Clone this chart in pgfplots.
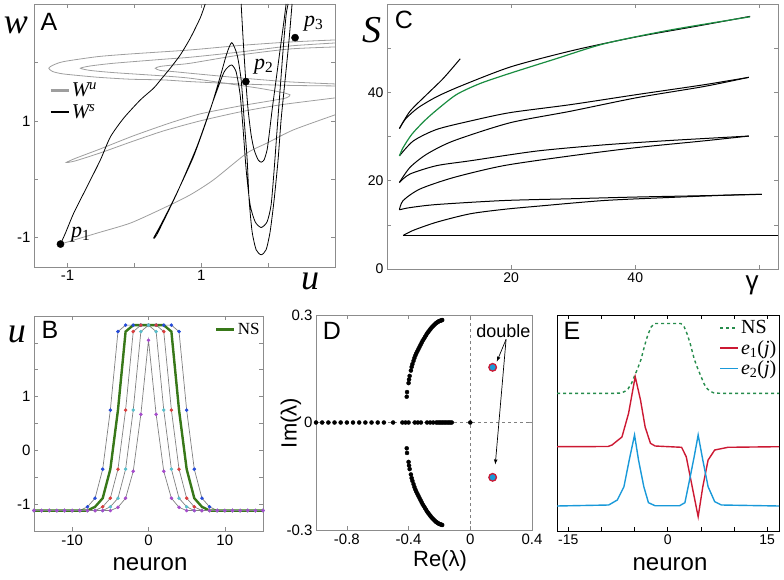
\documentclass[border=0pt]{standalone}
\usepackage{pgfplots}
\pgfplotsset{compat=1.18}
\usepackage{fontspec}
\setmainfont{Liberation Sans}
\newfontfamily\tms{Liberation Serif}
\newcommand\fs[1]{\fontsize{#1}{#1}\selectfont}
\definecolor{fr}{gray}{0.55}
\definecolor{gu}{gray}{0.62}
\definecolor{cgreen}{rgb}{0.1,0.55,0.25}
\definecolor{bgreen}{rgb}{0.22,0.47,0.1}
\definecolor{egreen}{rgb}{0.15,0.55,0.3}
\definecolor{bblue}{rgb}{0.15,0.3,0.85}
\definecolor{bred}{rgb}{0.85,0.25,0.25}
\definecolor{bcyan}{rgb}{0.35,0.75,0.8}
\definecolor{bpurp}{rgb}{0.65,0.3,0.8}
\definecolor{ered}{rgb}{0.8,0.1,0.2}
\definecolor{eblue}{rgb}{0.1,0.6,0.85}
\definecolor{bline}{gray}{0.5}
\pgfplotsset{panel/.style={scale only axis, anchor=south west, axis line style={fr},
  tick style={fr, line width=0.6pt}, tick align=inside, major tick length=4pt,
  tick label style={font=\fs{15}}, legend cell align=left,
  legend image code/.code={\draw[##1] (0pt,0pt) -- (18pt,0pt);}}}
\begin{document}
\begin{tikzpicture}
\useasboundingbox (0,0) rectangle (784pt,579pt);
% ---------------- A ----------------
\begin{axis}[panel, at={(34pt,312pt)}, width=301pt, height=263pt,
  xmin=-1.5, xmax=3, ymin=-1.5, ymax=3,
  xtick={-1,0,1,2}, xticklabels={-1,{},1,{}},
  ytick={-1,0,1,2}, yticklabels={-1,{},1,{}},
  legend style={at={(0.05,0.71)}, anchor=north west, draw=none, fill=none, font=\tms\fs{21}, row sep=2pt, inner sep=0pt}]
\addplot[gu, line width=0.8pt, smooth, tension=0.4, forget plot] coordinates {(-1.104,-1.108)(-0.557,-0.920)(-0.060,-0.749)(0.437,-0.492)(0.836,-0.265)(1.184,-0.009)(1.682,0.448)(1.981,0.619)(2.378,0.846)(3.0,1.103)};
\addplot[gu, line width=0.8pt, smooth, tension=0.4, forget plot] coordinates {(3.0,2.333)(2.328,2.282)(1.582,2.179)(0.836,2.089)(0.437,2.055)(-0.309,1.986)(-0.657,1.940)(-0.806,1.901)(-0.657,1.863)(-0.309,1.826)(0.437,1.769)(0.836,1.730)(1.433,1.632)(1.881,1.556)(2.209,1.487)(2.328,1.444)(2.269,1.393)(2.030,1.342)(1.582,1.256)(0.985,1.120)(0.537,0.966)(-0.015,0.744)(-0.507,0.521)(-0.881,0.359)(-1.019,0.287)(-0.881,0.316)(-0.507,0.453)(-0.060,0.636)(0.437,0.829)(0.985,1.0)(1.582,1.154)(2.179,1.274)(3.0,1.393)};
\addplot[gu, line width=0.8pt, smooth, tension=0.4, forget plot] coordinates {(3.0,2.385)(2.328,2.350)(1.582,2.291)(0.836,2.214)(-0.060,2.145)(-0.552,2.099)(-1.060,2.014)(-1.224,1.949)(-1.279,1.901)(-1.224,1.846)(-1.060,1.803)(-0.552,1.747)(-0.060,1.713)(0.433,1.701)(0.836,1.672)(1.582,1.632)(2.328,1.607)(3.0,1.598)};
\addplot[gu, line width=0.8pt, smooth, tension=0.4, forget plot] coordinates {(3.0,2.265)(2.328,2.231)(1.582,2.128)(0.836,1.986)(0.587,1.957)(0.388,1.932)(0.313,1.901)(0.388,1.863)(0.587,1.843)(0.836,1.815)(1.582,1.735)(2.328,1.667)(3.0,1.632)};
\addplot[black, line width=0.8pt, smooth, tension=0.4, forget plot] coordinates {(-1.104,-1.108)(-1.030,-0.920)(-0.906,-0.578)(-0.706,-0.123)(-0.507,0.333)(-0.358,0.726)(-0.160,1.046)(0.090,1.359)(0.288,1.559)(0.413,1.730)(0.537,1.901)(0.687,2.128)(0.836,2.414)(0.985,2.761)(1.060,3.0)};
\addplot[black, line width=0.8pt, smooth, tension=0.4, forget plot] coordinates {(1.597,3.0)(1.627,2.385)(1.667,1.672)(1.701,1.188)(1.746,0.761)(1.791,0.504)(1.851,0.333)(1.896,0.294)(1.940,0.333)(1.985,0.504)(2.015,0.761)(2.060,1.188)(2.119,1.701)(2.179,2.214)(2.239,2.726)(2.269,3.0)};
\addplot[black, line width=0.8pt, smooth, tension=0.4, forget plot] coordinates {(2.358,3.0)(2.313,2.385)(2.254,1.701)(2.194,1.017)(2.149,0.333)(2.090,-0.350)(2.030,-0.897)(1.970,-1.205)(1.896,-1.291)(1.821,-1.205)(1.761,-0.897)(1.716,-0.350)(1.687,0.333)(1.642,1.017)(1.597,1.701)(1.537,2.128)(1.458,2.338)(1.384,2.157)(1.284,1.757)(1.134,1.188)(0.885,0.390)(0.587,-0.350)(0.388,-0.795)(0.288,-1.005)(0.343,-0.932)(0.637,-0.236)(0.936,0.561)(1.184,1.359)(1.333,1.815)(1.403,1.923)(1.458,1.957)(1.522,1.838)(1.582,1.444)(1.627,0.846)(1.672,0.162)(1.731,-0.436)(1.806,-0.726)(1.896,-0.824)(1.985,-0.726)(2.045,-0.436)(2.090,0.162)(2.134,0.846)(2.179,1.530)(2.224,2.214)(2.269,2.812)(2.299,3.0)};
\addplot[only marks, mark=*, mark size=3.6pt, black, forget plot] coordinates {(-1.104,-1.108)(1.667,1.672)(2.403,2.424)};
\addlegendimage{gu, line width=2.5pt}\addlegendentry{\itshape W\textsuperscript{u}}
\addlegendimage{black, line width=2.5pt}\addlegendentry{\itshape W\textsuperscript{s}}
\end{axis}
\node[anchor=base, font=\tms\itshape\fs{36}] at (16pt,545pt) {w};
\node[font=\fs{25}] at (49pt,557pt) {A};
\node[anchor=base, font=\tms\itshape\fs{36}] at (310pt,290pt) {u};
\node[anchor=west, font=\tms\fs{22}, inner sep=0pt] at (71pt,344pt) {\itshape p\textsubscript{\upshape 1}};
\node[anchor=west, font=\tms\fs{22}, inner sep=0pt] at (254pt,512pt) {\itshape p\textsubscript{\upshape 2}};
\node[anchor=west, font=\tms\fs{22}, inner sep=0pt] at (304pt,555pt) {\itshape p\textsubscript{\upshape 3}};
% ---------------- C ----------------
\begin{axis}[panel, at={(387pt,310pt)}, width=391pt, height=265pt,
  xmin=0, xmax=63, ymin=0, ymax=60,
  xtick={20,40,60}, xticklabels={20,40,{}},
  ytick={0,10,...,50}, yticklabels={0,{},20,{},40,{}},
  tick label style={font=\fs{14}}]
\addplot[black, line width=1pt] coordinates {(63,7.6)(2.6,7.6)};
\addplot[black, line width=1pt, smooth, tension=0.45] coordinates {(2.6,7.6)(4.25,8.76)(8,10.6)(13.4,12.5)(18.8,13.5)(24.1,14.2)(34.9,15.5)(45.6,16.2)(56.4,16.8)(60.4,16.9)};
\addplot[black, line width=1pt, smooth, tension=0.45] coordinates {(60.4,16.9)(51,16.6)(40.3,16.3)(29.5,15.9)(18.8,15.5)(8,14.6)(3.7,13.9)(2.0,13.4)};
\addplot[black, line width=1pt, smooth, tension=0.45] coordinates {(2.0,13.4)(2.6,15.5)(5.3,18.1)(10.7,20.7)(18.8,23.4)(29.5,25.6)(40.3,27.5)(51,29.0)(58.3,30.1)};
\addplot[black, line width=1pt, smooth, tension=0.45] coordinates {(58.3,30.1)(45.6,29.1)(34.9,28.1)(24.1,26.7)(13.4,24.5)(8.0,23.4)(3.7,21.5)(2.0,19.6)};
\addplot[black, line width=1pt, smooth, tension=0.45] coordinates {(2.0,19.6)(3.7,23)(6.4,26)(10.7,29)(19.8,33.1)(29.5,35.7)(40.3,38.8)(51,41.3)(58.3,43.4)};
\addplot[black, line width=1pt, smooth, tension=0.45] coordinates {(58.3,43.4)(51,41.7)(40.3,39.5)(29.5,37.2)(19.8,35.4)(13.4,33.5)(8.0,31.6)(4.25,29)(2.0,25.6)};
\addplot[black, line width=1pt, smooth, tension=0.45] coordinates {(58.5,57.2)(50,55)(40,52.5)(30,49.5)(20,45.8)(12,41.5)(8,39)(5,36.5)(3,34)(2.0,31.8)};
\addplot[black, line width=1pt, smooth, tension=0.45] coordinates {(2.0,31.8)(3.7,35.7)(6.4,39.5)(9.1,43.2)(11.8,47.6)};
\addplot[cgreen, line width=1.2pt, smooth, tension=0.45] coordinates {(2.0,25.6)(2.6,27.5)(4,30.5)(6,33.5)(8,36)(11.2,39.5)(15,42)(19.8,44.3)(27,47.5)(35,51)(45.6,54.1)(58.5,57.1)};
\end{axis}
\node[font=\fs{25}] at (404pt,559pt) {C};
\node[anchor=base, font=\tms\itshape\fs{38}] at (372pt,536pt) {S};
\node[font=\fs{26}] at (752pt,294pt) {γ};
% ---------------- B ----------------
\begin{axis}[panel, at={(34pt,48pt)}, width=229pt, height=215pt,
  xmin=-15, xmax=15, ymin=-1.5, ymax=2.5,
  xtick={-10,0,10}, xticklabels={-10,0,10},
  ytick={-1,-0.5,...,2}, yticklabels={-1,{},0,{},1,{},{}},
  legend style={at={(0.995,0.975)}, anchor=north east, draw=none, fill=none, font=\tms\fs{17}, inner sep=0pt}]
\addplot[bline, line width=0.7pt, mark=*, mark size=1.4pt, mark options={bblue, draw=bblue}, forget plot] coordinates {(-15,-1.12)(-14,-1.12)(-13,-1.12)(-12,-1.12)(-11,-1.12)(-10,-1.12)(-9,-1.12)(-8,-1.05)(-7,-0.89)(-6,-0.35)(-5,0.75)(-4,2.21)(-3,2.33)(-2,2.33)(-1,2.33)(0,2.33)(1,2.33)(2,2.33)(3,2.33)(4,2.21)(5,0.75)(6,-0.35)(7,-0.89)(8,-1.05)(9,-1.12)(10,-1.12)(11,-1.12)(12,-1.12)(13,-1.12)(14,-1.12)(15,-1.12)};
\addplot[bline, line width=0.7pt, mark=*, mark size=1.4pt, mark options={bred, draw=bred}, forget plot] coordinates {(-15,-1.12)(-14,-1.12)(-13,-1.12)(-12,-1.12)(-11,-1.12)(-10,-1.12)(-9,-1.12)(-8,-1.12)(-7,-1.12)(-6,-1.05)(-5,-0.89)(-4,-0.35)(-3,0.75)(-2,2.21)(-1,2.33)(0,2.33)(1,2.33)(2,2.21)(3,0.75)(4,-0.35)(5,-0.89)(6,-1.05)(7,-1.12)(8,-1.12)(9,-1.12)(10,-1.12)(11,-1.12)(12,-1.12)(13,-1.12)(14,-1.12)(15,-1.12)};
\addplot[bline, line width=0.7pt, mark=*, mark size=1.4pt, mark options={bcyan, draw=bcyan}, forget plot] coordinates {(-15,-1.12)(-14,-1.12)(-13,-1.12)(-12,-1.12)(-11,-1.12)(-10,-1.12)(-9,-1.12)(-8,-1.12)(-7,-1.12)(-6,-1.12)(-5,-1.05)(-4,-0.89)(-3,-0.35)(-2,0.75)(-1,2.21)(0,2.33)(1,2.21)(2,0.75)(3,-0.35)(4,-0.89)(5,-1.05)(6,-1.12)(7,-1.12)(8,-1.12)(9,-1.12)(10,-1.12)(11,-1.12)(12,-1.12)(13,-1.12)(14,-1.12)(15,-1.12)};
\addplot[bgreen, line width=2.4pt, forget plot] coordinates {(-15,-1.12)(-8,-1.12)(-7,-1.05)(-6,-0.89)(-5,-0.35)(-4,0.75)(-3,2.21)(-2,2.33)(2,2.33)(3,2.21)(4,0.75)(5,-0.35)(6,-0.89)(7,-1.05)(8,-1.12)(15,-1.12)};
\addplot[bline, line width=0.7pt, mark=*, mark size=1.4pt, mark options={bpurp, draw=bpurp}, forget plot] coordinates {(-15,-1.12)(-14,-1.12)(-13,-1.12)(-12,-1.12)(-11,-1.12)(-10,-1.12)(-9,-1.12)(-8,-1.12)(-7,-1.12)(-6,-1.12)(-5,-1.12)(-4,-1.06)(-3,-0.89)(-2,-0.39)(-1,0.67)(0,2.05)(1,0.67)(2,-0.39)(3,-0.89)(4,-1.06)(5,-1.12)(6,-1.12)(7,-1.12)(8,-1.12)(9,-1.12)(10,-1.12)(11,-1.12)(12,-1.12)(13,-1.12)(14,-1.12)(15,-1.12)};
\addlegendimage{bgreen, line width=3pt}\addlegendentry{NS}
\end{axis}
\node[font=\fs{25}] at (50pt,249pt) {B};
\node[anchor=base, font=\tms\itshape\fs{36}] at (17pt,237pt) {u};
\node[anchor=base, font=\fs{24}] at (150pt,9pt) {neuron};
% ---------------- D ----------------
\begin{axis}[panel, at={(316pt,49pt)}, width=216pt, height=215pt,
  xmin=-1, xmax=0.4, ymin=-0.3, ymax=0.3,
  xtick={-0.8,-0.4,0,0.4}, xticklabels={-0.8,-0.4,0,0.4},
  ytick={-0.3,0,0.3}, yticklabels={-0.3,0,0.3}]
\addplot[gray, dashed, line width=0.8pt] coordinates {(0,-0.3)(0,0.3)};
\addplot[gray, dashed, line width=0.8pt] coordinates {(-1,0)(0.4,0)};
\addplot[only marks, mark=*, mark size=2pt, black] coordinates {(-1.0,0)(-0.96,0)(-0.92,0)(-0.88,0)(-0.84,0)(-0.80,0)(-0.76,0)(-0.72,0)(-0.68,0)(-0.64,0)(-0.60,0)(-0.56,0)(-0.50,0)(-0.44,0)(-0.42,0)(-0.40,0)(-0.36,0)(-0.34,0)(-0.32,0)(-0.28,0)(-0.26,0)(-0.24,0)(-0.22,0)(-0.21,0)(-0.20,0)(-0.19,0)(-0.18,0)(-0.17,0)(-0.16,0)(-0.15,0)(-0.14,0)(-0.13,0)(-0.12,0)(0,0)};
\addplot[only marks, mark=*, mark size=2pt, black] coordinates {(-0.412,0.072)(-0.410,0.085)(-0.400,0.110)(-0.397,0.120)(-0.393,0.130)(-0.385,0.145)(-0.380,0.155)(-0.375,0.163)(-0.368,0.172)(-0.362,0.180)(-0.356,0.187)(-0.350,0.193)(-0.343,0.199)(-0.336,0.205)(-0.329,0.211)(-0.322,0.217)(-0.315,0.223)(-0.308,0.229)(-0.300,0.234)(-0.293,0.239)(-0.286,0.244)(-0.279,0.249)(-0.272,0.253)(-0.265,0.257)(-0.258,0.261)(-0.251,0.265)(-0.244,0.268)(-0.237,0.271)(-0.230,0.274)(-0.223,0.277)(-0.216,0.279)(-0.209,0.281)(-0.202,0.283)(-0.195,0.284)(-0.188,0.285)(-0.182,0.286)};
\addplot[only marks, mark=*, mark size=2pt, black] coordinates {(-0.412,-0.072)(-0.410,-0.085)(-0.400,-0.110)(-0.397,-0.120)(-0.393,-0.130)(-0.385,-0.145)(-0.380,-0.155)(-0.375,-0.163)(-0.368,-0.172)(-0.362,-0.180)(-0.356,-0.187)(-0.350,-0.193)(-0.343,-0.199)(-0.336,-0.205)(-0.329,-0.211)(-0.322,-0.217)(-0.315,-0.223)(-0.308,-0.229)(-0.300,-0.234)(-0.293,-0.239)(-0.286,-0.244)(-0.279,-0.249)(-0.272,-0.253)(-0.265,-0.257)(-0.258,-0.261)(-0.251,-0.265)(-0.244,-0.268)(-0.237,-0.271)(-0.230,-0.274)(-0.223,-0.277)(-0.216,-0.279)(-0.209,-0.281)(-0.202,-0.283)(-0.195,-0.284)(-0.188,-0.285)(-0.182,-0.286)};
\addplot[only marks, mark=*, mark size=3.8pt, mark options={fill=eblue, draw=ered, line width=1.3pt}] coordinates {(0.145,0.154)(0.145,-0.153)};
\draw[-latex, line width=0.7pt] (axis cs:0.232,0.232) -- (axis cs:0.172,0.170);
\draw[-latex, line width=0.7pt] (axis cs:0.232,0.232) -- (axis cs:0.162,-0.117);
\node[font=\fs{18}] at (axis cs:0.214,0.255) {double};
\end{axis}
\node[font=\fs{25}] at (332pt,248pt) {D};
\node[rotate=90, font=\fs{22}] at (291pt,156pt) {Im(λ)};
\node[font=\fs{22}] at (440pt,18pt) {Re(λ)};
% ---------------- E ----------------
\begin{axis}[panel, at={(557pt,48pt)}, width=222pt, height=216pt,
  axis line style={black}, tick style={black},
  xmin=-16.7, xmax=16.8, ymin=0, ymax=216,
  xtick={-15,-10,...,15}, xticklabels={-15,{},{},0,{},{},15}, ytick=\empty,
  tick label style={font=\fs{14}},
  legend style={at={(0.998,0.985)}, anchor=north east, draw=none, fill=none, font=\tms\fs{20}, row sep=1pt, inner sep=0pt}]
\addplot[egreen, dashed, line width=1.4pt] coordinates {(-16.7,137.7)(-8,137.7)(-7,138)(-6.5,139.5)(-6,142)(-5.5,147)(-5,155)(-4.5,163)(-4,172)(-3.5,185)(-3,196)(-2.5,204)(-2,207.5)(2,207.5)(2.5,204)(3,196)(3.5,185)(4,172)(4.5,163)(5,155)(5.5,147)(6,142)(6.5,139.5)(7,138)(8,137.7)(16.8,137.7)};
\addlegendentry{NS}
\addplot[ered, line width=1.4pt] coordinates {(-16.7,84.3)(-9,84.5)(-8.4,86)(-6.9,94)(-5.9,117.7)(-4.9,154.3)(-4.1,131)(-3.4,104)(-2.6,87.7)(-1.9,85)(2.1,83.7)(2.8,74.3)(3.8,41)(4.6,14.3)(5.3,44.3)(6.1,71)(7.1,81)(9.1,83.7)(16.8,84.3)};
\addlegendentry{\itshape e\textsubscript{\upshape 1}\upshape(\itshape j\upshape)}
\addplot[eblue, line width=1.4pt] coordinates {(-16.7,25)(-8.9,26)(-7.6,31)(-6.6,44.3)(-5.8,71)(-5.0,96)(-4.4,71)(-3.6,44.3)(-2.9,28.3)(-1.9,25.3)(1.8,25.3)(2.6,28.3)(3.3,51)(4.0,74.3)(4.6,96)(5.3,71)(6.1,44.3)(7.1,29.3)(8.1,26)(16.8,25)};
\addlegendentry{\itshape e\textsubscript{\upshape 2}\upshape(\itshape j\upshape)}
\end{axis}
\node[font=\fs{25}] at (572pt,248pt) {E};
\node[anchor=base, font=\fs{24}] at (670pt,9pt) {neuron};
\end{tikzpicture}
\end{document}
